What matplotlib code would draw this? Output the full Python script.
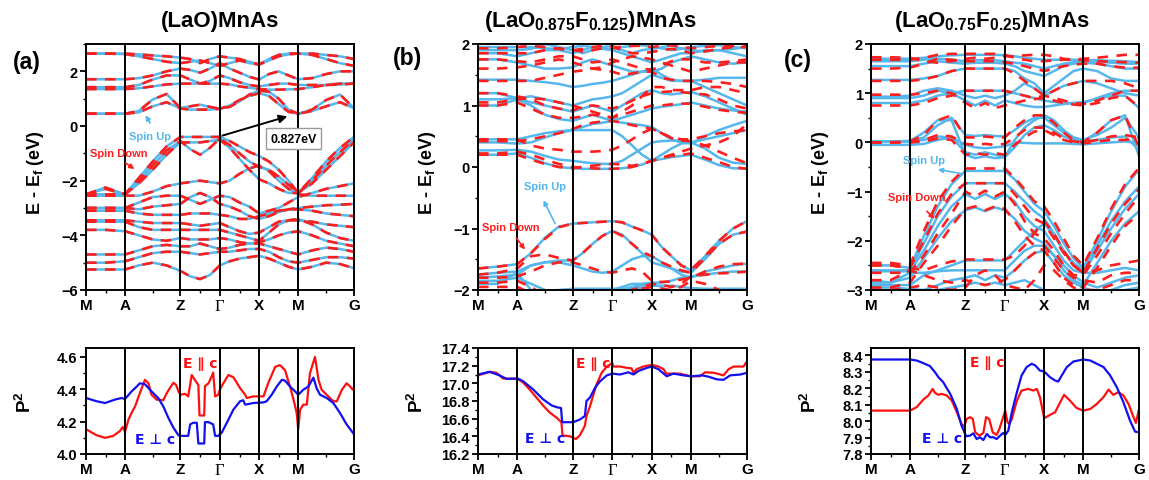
import matplotlib
matplotlib.use('Agg')
import matplotlib.pyplot as plt
from matplotlib.ticker import MultipleLocator, FixedLocator

plt.rcParams['font.family'] = ['Liberation Sans', 'DejaVu Sans']
plt.rcParams['font.weight'] = 'bold'
plt.rcParams['mathtext.fontset'] = 'custom'
plt.rcParams['mathtext.rm'] = 'Liberation Sans:bold'
plt.rcParams['mathtext.bf'] = 'Liberation Sans:bold'
plt.rcParams['mathtext.it'] = 'Liberation Sans:bold'
plt.rcParams['mathtext.default'] = 'bf'

BLUE = '#55B7EC'
RED = '#FF1E1E'
PRED = '#FF1010'
PBLUE = '#1010F0'

# ---------------- k-path ----------------
KPATH_LABELS = ['M', 'A', 'Z', 'Γ', 'X', 'M', 'G']
KPATH_POS = [0.0, 1.0, 2.42, 3.43, 4.44, 5.44, 6.87]
K_MINOR = [0.5, 1.71, 2.925, 3.935, 4.94, 6.155]
K_SAMPLES = [0.0, 0.5, 1.0, 1.355, 1.71, 2.065, 2.42, 2.6725, 2.925, 3.1775,
             3.43, 3.6825, 3.935, 4.1875, 4.44, 4.69, 4.94, 5.19, 5.44,
             5.7975, 6.155, 6.5125, 6.87]

# ---------------- (a) (LaO)MnAs : spin up and down degenerate ----------------
a_c1 = [0.45,0.45,0.45,0.5,0.72,0.87,0.64,0.6,0.6,0.6,0.63,0.75,0.95,1.1,1.2,1.1,0.8,0.52,0.45,0.55,0.72,0.87,0.65]
a_c2 = [0.45,0.45,0.45,0.55,0.97,1.17,0.66,0.72,0.78,0.7,0.63,0.7,0.9,1.15,1.3,1.25,1.0,0.6,0.45,0.6,0.95,1.15,0.65]
a_u1 = [1.35,1.35,1.35,1.38,1.45,1.52,1.55,1.55,1.55,1.55,1.55,1.52,1.45,1.4,1.35,1.33,1.33,1.34,1.35,1.42,1.5,1.55,1.55]
a_u2 = [1.42,1.42,1.42,1.5,1.7,1.85,1.85,1.7,1.55,1.65,1.85,1.75,1.6,1.5,1.45,1.5,1.55,1.55,1.5,1.5,1.5,1.52,1.55]
a_u3 = [1.71,1.71,1.71,1.75,1.85,2.0,2.1,2.05,1.95,2.1,2.3,2.1,1.95,1.8,1.7,1.9,2.0,1.85,1.71,1.75,1.9,2.0,2.0]
a_u4 = [2.65,2.65,2.63,2.55,2.45,2.35,2.3,2.35,2.4,2.3,2.2,2.3,2.4,2.3,2.25,2.4,2.55,2.62,2.65,2.6,2.45,2.3,2.2]
a_u5 = [2.65,2.65,2.65,2.62,2.58,2.55,2.5,2.45,2.3,2.45,2.55,2.5,2.45,2.35,2.25,2.45,2.6,2.65,2.65,2.65,2.6,2.55,2.45]
a_v1 = [-2.5,-2.25,-2.5,-1.9,-1.3,-0.75,-0.4,-0.4,-0.4,-0.4,-0.4,-0.55,-0.75,-0.95,-1.1,-1.3,-1.6,-2.0,-2.45,-1.9,-1.3,-0.8,-0.4]
a_v2 = [-2.5,-2.3,-2.5,-2.0,-1.45,-0.9,-0.55,-0.85,-1.05,-0.8,-0.45,-0.7,-1.0,-1.3,-1.5,-1.6,-1.85,-2.15,-2.45,-2.0,-1.45,-0.95,-0.5]
a_v3 = [-2.5,-2.5,-2.5,-2.1,-1.6,-1.05,-0.6,-0.6,-0.6,-0.55,-0.5,-0.8,-1.2,-1.6,-1.95,-2.1,-2.3,-2.45,-2.45,-2.1,-1.6,-1.1,-0.6]
a_v4 = [-2.55,-2.55,-2.55,-2.55,-2.4,-2.2,-2.1,-2.05,-2.0,-2.05,-2.1,-2.0,-1.75,-1.55,-1.45,-1.65,-2.0,-2.3,-2.5,-2.55,-2.55,-2.55,-2.55]
a_v5 = [-3.0,-3.0,-3.0,-2.8,-2.6,-2.55,-2.55,-2.7,-2.85,-2.7,-2.55,-2.6,-2.8,-2.95,-3.2,-3.1,-3.0,-2.8,-2.6,-2.45,-2.3,-2.2,-2.1]
a_v6 = [-3.0,-3.0,-3.0,-3.05,-2.95,-2.9,-2.85,-2.6,-2.45,-2.6,-2.85,-2.95,-3.1,-3.3,-3.4,-3.3,-3.15,-3.05,-3.0,-2.95,-2.9,-2.88,-2.85]
a_v7 = [-3.1,-3.1,-3.1,-3.2,-3.25,-3.25,-3.25,-3.2,-3.2,-3.2,-3.25,-3.3,-3.4,-3.4,-3.3,-3.2,-3.1,-3.05,-3.05,-3.1,-3.2,-3.25,-3.3]
a_v8 = [-3.45,-3.45,-3.45,-3.5,-3.55,-3.55,-3.55,-3.6,-3.65,-3.6,-3.55,-3.7,-3.85,-3.95,-3.9,-3.7,-3.5,-3.45,-3.45,-3.5,-3.6,-3.65,-3.7]
a_v9 = [-3.5,-3.5,-3.5,-3.7,-3.8,-3.8,-3.8,-3.8,-3.8,-3.8,-3.8,-3.9,-4.0,-4.1,-4.2,-3.9,-3.6,-3.45,-3.4,-3.6,-3.9,-4.1,-4.2]
a_v10 = [-3.8,-3.8,-3.85,-4.0,-4.15,-4.2,-4.1,-4.15,-4.15,-4.15,-4.1,-4.15,-4.25,-4.3,-4.25,-4.15,-4.0,-3.9,-3.85,-4.0,-4.2,-4.3,-4.4]
a_v11 = [-4.7,-4.7,-4.7,-4.55,-4.4,-4.35,-4.4,-4.4,-4.3,-4.4,-4.5,-4.45,-4.35,-4.3,-4.3,-4.4,-4.5,-4.6,-4.7,-4.55,-4.45,-4.5,-4.6]
a_v12 = [-5.0,-5.0,-4.95,-4.8,-4.65,-4.6,-4.6,-4.65,-4.7,-4.65,-4.6,-4.6,-4.55,-4.5,-4.5,-4.6,-4.8,-4.95,-5.0,-4.9,-4.8,-4.8,-4.85]
a_v13 = [-5.25,-5.25,-5.25,-5.1,-5.0,-5.1,-5.3,-5.5,-5.6,-5.45,-5.1,-4.95,-4.85,-4.8,-4.75,-4.85,-5.0,-5.15,-5.25,-5.15,-5.0,-5.05,-5.2]
bands_a = [a_c1, a_c2, a_u1, a_u2, a_u3, a_u4, a_u5, a_v1, a_v2, a_v3, a_v4,
           a_v5, a_v6, a_v7, a_v8, a_v9, a_v10, a_v11, a_v12, a_v13]

# ---------------- (b) (LaO0.875F0.125)MnAs ----------------
b_up = [
    [0.2,0.2,0.22,0.15,0.06,0.0,-0.02,-0.03,-0.03,-0.03,-0.03,-0.02,0.0,0.04,0.1,0.13,0.16,0.18,0.2,0.12,0.03,-0.02,-0.03],
    [0.27,0.27,0.28,0.25,0.18,0.12,0.1,0.08,0.06,0.05,0.05,0.1,0.2,0.3,0.4,0.42,0.43,0.42,0.4,0.3,0.15,0.07,0.05],
    [0.4,0.4,0.38,0.4,0.48,0.55,0.6,0.6,0.6,0.6,0.6,0.5,0.35,0.2,0.1,0.2,0.3,0.38,0.4,0.45,0.5,0.55,0.6],
    [0.45,0.45,0.45,0.5,0.55,0.58,0.6,0.65,0.7,0.72,0.75,0.72,0.7,0.68,0.65,0.55,0.45,0.4,0.38,0.5,0.6,0.68,0.75],
    [1.0,1.0,1.1,1.0,0.85,0.78,0.75,0.8,0.85,0.8,0.75,0.8,0.85,0.9,0.95,0.98,1.0,1.02,1.05,1.0,0.95,0.92,0.9],
    [1.2,1.2,1.12,1.05,1.0,0.95,0.9,0.95,1.0,0.95,0.9,1.0,1.1,1.2,1.25,1.2,1.18,1.2,1.22,1.15,1.05,0.95,0.85],
    [1.1,1.1,1.12,1.15,1.1,1.05,1.0,1.05,1.1,1.12,1.15,1.2,1.3,1.4,1.5,1.45,1.4,1.4,1.4,1.3,1.2,1.1,1.0],
    [1.42,1.42,1.42,1.4,1.38,1.35,1.3,1.32,1.35,1.37,1.4,1.45,1.5,1.55,1.6,1.5,1.42,1.4,1.4,1.42,1.45,1.45,1.45],
    [1.75,1.75,1.7,1.65,1.6,1.6,1.62,1.7,1.75,1.7,1.65,1.6,1.55,1.55,1.55,1.6,1.7,1.75,1.8,1.75,1.7,1.68,1.7],
    [1.85,1.85,1.8,1.85,1.9,1.9,1.85,1.9,1.95,1.92,1.9,1.85,1.8,1.75,1.7,1.75,1.8,1.85,1.85,1.9,1.9,1.85,1.8],
    [1.95,1.95,1.95,1.95,1.93,1.92,1.95,1.97,1.95,1.93,1.92,1.95,1.97,1.98,1.95,1.93,1.9,1.92,1.95,1.97,1.98,1.95,1.93],
    [1.9,1.9,1.9,1.92,2.0,1.95,1.9,1.85,1.9,1.95,1.97,1.9,1.85,1.9,1.92,1.95,1.97,1.93,1.9,1.88,1.9,1.92,1.95],
    [-1.65,-1.62,-1.58,-1.4,-1.15,-0.97,-0.92,-0.91,-0.9,-0.89,-0.88,-0.9,-0.97,-1.03,-1.1,-1.3,-1.45,-1.6,-1.68,-1.45,-1.2,-1.0,-0.88],
    [-1.75,-1.72,-1.7,-1.6,-1.55,-1.52,-1.52,-1.4,-1.25,-1.12,-1.04,-1.1,-1.25,-1.4,-1.55,-1.6,-1.65,-1.7,-1.72,-1.5,-1.25,-1.1,-1.05],
    [-1.8,-1.78,-1.75,-1.6,-1.55,-1.55,-1.6,-1.65,-1.7,-1.72,-1.7,-1.6,-1.5,-1.45,-1.45,-1.55,-1.65,-1.75,-1.8,-1.7,-1.65,-1.6,-1.57],
    [-1.85,-1.85,-1.8,-1.9,-2.0,-2.1,-2.1,-2.1,-2.1,-2.05,-2.0,-1.95,-1.9,-1.9,-1.88,-1.88,-1.85,-1.8,-1.78,-1.75,-1.72,-1.7,-1.7],
    [-1.9,-1.9,-1.72,-2.0,-2.2,-2.3,-2.3,-2.3,-2.25,-2.2,-2.1,-2.0,-1.95,-1.92,-1.9,-1.95,-2.05,-2.1,-2.1,-2.05,-2.0,-2.0,-2.0],
    [-2.1,-2.1,-2.1,-2.05,-2.02,-2.0,-1.98,-1.98,-1.98,-1.98,-1.98,-1.98,-1.97,-1.96,-1.93,-1.93,-1.93,-1.95,-1.97,-1.98,-1.98,-1.98,-1.98],
]
b_dn = [
    [0.2,0.2,0.2,0.12,0.05,0.0,-0.02,0.0,0.02,0.04,0.05,0.04,0.02,0.05,0.1,0.15,0.18,0.2,0.22,0.15,0.08,0.0,-0.03],
    [0.22,0.22,0.25,0.2,0.12,0.05,0.0,-0.01,-0.02,-0.03,-0.03,-0.02,0.0,0.05,0.1,0.15,0.2,0.25,0.3,0.35,0.4,0.5,0.7],
    [0.42,0.42,0.42,0.45,0.5,0.55,0.62,0.68,0.72,0.74,0.75,0.72,0.68,0.65,0.62,0.55,0.47,0.43,0.42,0.35,0.25,0.15,0.06],
    [0.45,0.45,0.45,0.35,0.3,0.28,0.25,0.25,0.25,0.26,0.28,0.35,0.45,0.55,0.62,0.55,0.48,0.45,0.45,0.5,0.55,0.58,0.6],
    [1.0,1.0,1.05,0.95,0.85,0.8,0.8,0.82,0.85,0.83,0.8,0.85,0.9,0.95,1.0,1.0,1.02,1.03,1.03,0.98,0.93,0.9,0.88],
    [1.2,1.2,1.15,1.1,1.0,0.95,0.92,0.98,1.0,0.98,0.95,1.0,1.08,1.15,1.2,1.22,1.23,1.22,1.2,1.18,1.1,1.0,0.95],
    [1.05,1.05,1.1,1.12,1.1,1.05,1.0,0.95,0.9,0.85,0.8,0.9,1.0,1.15,1.3,1.3,1.25,1.25,1.25,1.3,1.3,1.25,1.2],
    [1.4,1.4,1.4,1.4,1.45,1.5,1.55,1.57,1.6,1.58,1.55,1.5,1.52,1.55,1.55,1.45,1.42,1.4,1.4,1.4,1.38,1.35,1.3],
    [1.75,1.75,1.72,1.7,1.75,1.8,1.8,1.75,1.7,1.72,1.75,1.7,1.65,1.6,1.58,1.65,1.72,1.75,1.75,1.7,1.7,1.72,1.75],
    [1.85,1.85,1.85,1.85,1.9,1.93,1.9,1.88,1.9,1.93,1.95,1.9,1.85,1.85,1.87,1.9,1.92,1.9,1.85,1.88,1.92,1.95,1.95],
    [1.93,1.93,1.95,1.97,1.95,1.92,1.9,1.92,1.95,1.97,1.95,1.95,1.97,1.97,1.95,1.97,1.98,1.95,1.93,1.95,1.97,1.97,1.97],
    [1.6,1.6,1.62,1.65,1.7,1.75,1.7,1.65,1.6,1.62,1.7,1.75,1.8,1.78,1.75,1.7,1.65,1.6,1.55,1.6,1.65,1.7,1.7],
    [-1.65,-1.62,-1.58,-1.4,-1.17,-0.98,-0.92,-0.91,-0.9,-0.89,-0.88,-0.9,-0.97,-1.03,-1.1,-1.3,-1.45,-1.6,-1.67,-1.45,-1.2,-1.0,-0.88],
    [-1.75,-1.72,-1.65,-1.45,-1.42,-1.48,-1.52,-1.4,-1.25,-1.12,-1.04,-1.12,-1.25,-1.38,-1.45,-1.55,-1.62,-1.68,-1.72,-1.48,-1.25,-1.1,-1.05],
    [-1.8,-1.8,-1.78,-1.7,-1.6,-1.55,-1.55,-1.6,-1.65,-1.7,-1.72,-1.68,-1.65,-1.7,-1.85,-1.87,-1.86,-1.83,-1.8,-1.7,-1.62,-1.58,-1.57],
    [-1.88,-1.88,-1.85,-1.95,-2.1,-2.2,-2.2,-2.2,-2.2,-2.15,-2.1,-2.05,-2.0,-1.98,-1.95,-1.98,-2.0,-1.95,-1.85,-1.9,-2.0,-2.05,-2.05],
    [-1.95,-1.95,-1.95,-2.05,-2.1,-2.1,-2.1,-2.1,-2.1,-2.1,-2.1,-2.05,-2.0,-1.95,-1.9,-1.92,-1.95,-1.9,-1.78,-1.75,-1.73,-1.72,-1.7],
]

# ---------------- (c) (LaO0.75F0.25)MnAs ----------------
c_up = [
    [-0.05,-0.05,-0.05,-0.03,0.05,0.1,-0.05,-0.1,-0.12,-0.1,-0.08,0.0,-0.01,-0.02,-0.02,-0.02,-0.02,-0.03,-0.04,-0.02,0.0,0.02,-0.02],
    [0.02,0.02,0.02,0.1,0.35,0.5,0.15,0.13,0.15,0.13,0.12,0.25,0.4,0.5,0.5,0.35,0.2,0.1,0.05,0.15,0.3,0.5,0.1],
    [0.02,0.02,0.02,0.05,0.12,0.1,-0.2,-0.25,-0.2,-0.25,-0.3,-0.1,0.15,0.3,0.35,0.25,0.12,0.05,0.02,0.05,0.1,0.12,-0.15],
    [0.02,0.02,0.03,0.2,0.45,0.45,-0.25,-0.32,-0.28,-0.32,-0.3,0.05,0.3,0.45,0.55,0.45,0.25,0.1,0.03,0.2,0.45,0.55,-0.28],
    [0.8,0.8,0.8,0.85,0.95,1.0,1.05,1.05,1.05,1.05,1.05,1.0,0.95,0.9,0.85,0.82,0.8,0.8,0.8,0.9,1.0,1.05,1.05],
    [0.9,0.9,0.9,0.95,1.05,1.0,0.85,0.75,0.85,0.75,0.85,0.8,0.75,0.72,0.72,0.75,0.78,0.8,0.82,0.88,0.95,0.95,0.7],
    [0.93,0.93,0.95,1.05,1.1,1.05,0.95,0.9,0.95,0.9,0.95,1.05,1.2,1.1,0.95,1.05,1.15,1.2,1.25,1.2,1.1,1.0,0.95],
    [1.27,1.27,1.27,1.3,1.35,1.45,1.5,1.5,1.5,1.5,1.5,1.45,1.3,1.2,1.0,1.15,1.3,1.45,1.5,1.45,1.3,1.25,1.25],
    [1.55,1.55,1.55,1.6,1.65,1.62,1.6,1.62,1.62,1.62,1.6,1.55,1.45,1.4,1.35,1.45,1.55,1.6,1.62,1.6,1.55,1.5,1.5],
    [1.65,1.65,1.65,1.68,1.7,1.68,1.65,1.67,1.67,1.67,1.65,1.62,1.6,1.55,1.5,1.55,1.6,1.63,1.65,1.65,1.62,1.6,1.6],
    [1.7,1.7,1.7,1.72,1.75,1.77,1.78,1.78,1.78,1.78,1.77,1.75,1.72,1.7,1.68,1.68,1.68,1.68,1.68,1.67,1.66,1.65,1.63],
    [-2.5,-2.5,-2.55,-1.9,-1.3,-0.85,-0.58,-0.58,-0.58,-0.58,-0.58,-0.75,-1.0,-1.25,-1.4,-1.7,-2.05,-2.35,-2.55,-2.0,-1.4,-0.9,-0.55],
    [-2.6,-2.6,-2.6,-2.05,-1.5,-1.1,-0.83,-0.83,-0.83,-0.83,-0.83,-1.0,-1.2,-1.4,-1.55,-1.85,-2.2,-2.45,-2.6,-2.1,-1.6,-1.2,-0.9],
    [-2.62,-2.62,-2.62,-2.2,-1.7,-1.3,-1.05,-1.15,-1.05,-1.15,-1.05,-1.2,-1.5,-1.7,-1.8,-2.1,-2.4,-2.6,-2.65,-2.2,-1.75,-1.35,-1.05],
    [-2.8,-2.85,-2.75,-2.35,-1.95,-1.6,-1.38,-1.32,-1.4,-1.32,-1.38,-1.55,-1.8,-1.95,-2.05,-2.3,-2.6,-2.8,-2.9,-2.45,-2.0,-1.65,-1.4],
    [-2.9,-2.9,-2.9,-2.7,-2.6,-2.5,-2.4,-2.4,-2.4,-2.4,-2.4,-2.2,-2.0,-1.8,-1.65,-1.9,-2.2,-2.5,-2.65,-2.65,-2.6,-2.55,-2.6],
    [-2.85,-2.85,-2.65,-2.65,-2.62,-2.6,-2.6,-2.6,-2.6,-2.6,-2.6,-2.4,-2.2,-2.1,-2.1,-2.3,-2.5,-2.7,-2.85,-2.95,-2.85,-2.75,-2.7],
    [-2.95,-2.95,-2.98,-3.0,-2.9,-2.8,-2.75,-2.7,-2.8,-2.7,-2.75,-2.6,-2.4,-2.25,-2.2,-2.45,-2.7,-2.85,-2.95,-3.05,-3.0,-2.9,-2.85],
    [-3.1,-3.1,-3.1,-3.05,-3.0,-2.95,-2.9,-2.85,-2.9,-2.85,-2.9,-2.85,-2.8,-2.9,-3.0,-3.05,-3.05,-3.0,-3.0,-3.1,-3.05,-3.0,-2.95],
]
c_dn = [
    [0.0,0.0,0.0,0.05,0.15,0.12,-0.03,-0.05,-0.03,-0.05,-0.03,0.1,0.25,0.3,0.3,0.2,0.08,0.02,0.0,0.05,0.12,0.15,0.1],
    [0.0,0.0,0.02,0.15,0.45,0.55,0.1,0.1,0.12,0.1,0.1,0.3,0.45,0.55,0.55,0.4,0.2,0.05,0.0,0.2,0.45,0.55,-0.1],
    [0.0,0.0,0.0,0.02,0.08,0.05,-0.25,-0.22,-0.25,-0.22,-0.25,-0.05,0.1,0.22,0.25,0.15,0.05,0.0,-0.02,0.02,0.05,0.05,0.1],
    [0.75,0.75,0.75,0.8,0.9,0.95,1.05,1.05,1.05,1.05,1.05,1.0,0.95,0.9,0.95,0.9,0.85,0.8,0.78,0.85,0.95,1.05,1.05],
    [0.97,0.97,0.97,1.0,1.05,1.0,0.8,0.7,0.8,0.7,0.75,0.8,0.85,0.88,0.9,0.85,0.8,0.77,0.75,0.8,0.9,0.95,0.72],
    [1.25,1.25,1.25,1.28,1.35,1.45,1.5,1.5,1.5,1.5,1.5,1.4,1.25,1.1,0.95,1.05,1.15,1.2,1.25,1.25,1.25,1.2,1.1],
    [1.5,1.5,1.52,1.6,1.7,1.68,1.65,1.65,1.65,1.65,1.63,1.6,1.55,1.5,1.45,1.5,1.55,1.58,1.6,1.6,1.55,1.52,1.52],
    [1.68,1.68,1.68,1.72,1.78,1.8,1.8,1.8,1.8,1.8,1.78,1.72,1.68,1.65,1.65,1.67,1.68,1.68,1.7,1.72,1.75,1.78,1.78],
    [1.73,1.73,1.72,1.65,1.62,1.65,1.7,1.72,1.7,1.72,1.75,1.75,1.77,1.78,1.78,1.75,1.7,1.68,1.67,1.65,1.64,1.63,1.62],
    [-2.45,-2.45,-2.5,-1.8,-1.2,-0.8,-0.53,-0.53,-0.53,-0.53,-0.53,-0.72,-0.95,-1.2,-1.3,-1.6,-1.95,-2.3,-2.5,-1.95,-1.35,-0.85,-0.52],
    [-2.5,-2.5,-2.55,-2.0,-1.45,-1.05,-0.83,-0.83,-0.83,-0.83,-0.83,-1.05,-1.3,-1.55,-1.65,-1.95,-2.25,-2.5,-2.65,-2.15,-1.65,-1.25,-0.95],
    [-2.65,-2.65,-2.65,-2.3,-1.85,-1.45,-1.0,-1.1,-0.98,-1.1,-1.0,-1.25,-1.6,-1.85,-1.95,-2.2,-2.5,-2.7,-2.7,-2.3,-1.85,-1.45,-1.1],
    [-2.95,-2.95,-2.85,-2.45,-2.1,-1.7,-1.35,-1.3,-1.38,-1.3,-1.35,-1.6,-1.9,-2.1,-2.2,-2.45,-2.75,-2.9,-2.95,-2.55,-2.1,-1.7,-1.45],
    [-2.5,-2.5,-2.55,-2.6,-2.5,-2.42,-2.38,-2.38,-2.38,-2.38,-2.38,-2.3,-2.1,-1.85,-1.6,-1.85,-2.2,-2.5,-2.65,-2.6,-2.5,-2.45,-2.4],
    [-2.8,-2.8,-2.6,-2.7,-2.8,-2.85,-2.8,-2.85,-2.9,-2.85,-2.8,-2.6,-2.4,-2.25,-2.1,-2.35,-2.6,-2.75,-2.8,-2.85,-2.7,-2.65,-2.65],
    [-3.0,-3.0,-2.95,-2.9,-2.95,-3.0,-2.95,-2.7,-2.6,-2.7,-2.9,-2.95,-3.0,-2.8,-2.5,-2.6,-2.8,-2.95,-3.0,-3.0,-2.9,-2.8,-2.8],
]

# ---------------- P^2 data ----------------
pa_par_k = [0.00,0.27,0.49,0.70,0.87,0.94,1.00,1.09,1.17,1.26,1.38,1.51,1.60,1.68,1.81,1.98,2.07,2.15,2.24,2.31,
            2.37,2.42,2.54,2.62,2.71,2.79,2.88,2.91,3.03,3.05,3.14,3.22,3.26,3.31,3.39,3.43,3.52,3.65,3.78,3.95,
            4.08,4.12,4.29,4.55,4.67,4.85,4.97,5.10,5.23,5.32,5.40,5.44,5.49,5.57,5.66,5.74,5.87,5.96,6.04,6.21,
            6.34,6.43,6.56,6.68,6.77,6.84,6.87]
pa_par = [4.153,4.116,4.10,4.112,4.142,4.167,4.136,4.214,4.254,4.295,4.376,4.458,4.437,4.366,4.336,4.332,4.376,4.407,4.44,4.427,
          4.387,4.366,4.372,4.356,4.488,4.458,4.427,4.238,4.238,4.42,4.437,4.478,4.503,4.356,4.366,4.397,4.437,4.488,4.474,4.407,
          4.366,4.346,4.356,4.356,4.437,4.539,4.549,4.519,4.417,4.336,4.254,4.153,4.275,4.305,4.305,4.498,4.6,4.458,4.397,4.356,
          4.326,4.326,4.397,4.437,4.417,4.397,4.413]
pa_perp_k = [0,0.27,0.49,0.74,0.91,1.00,1.17,1.30,1.38,1.51,1.68,1.85,1.98,2.11,2.24,2.37,2.42,2.62,2.67,2.75,
             2.84,2.88,3.03,3.05,3.14,3.26,3.31,3.39,3.48,3.61,3.78,3.95,4.03,4.08,4.29,4.55,4.63,4.76,4.89,5.02,
             5.10,5.23,5.36,5.44,5.57,5.70,5.83,5.91,6.00,6.17,6.34,6.51,6.68,6.87]
pa_perp = [4.346,4.326,4.315,4.336,4.346,4.34,4.387,4.417,4.437,4.431,4.387,4.346,4.295,4.224,4.163,4.116,4.112,4.112,4.183,4.193,
           4.193,4.065,4.065,4.197,4.197,4.183,4.112,4.112,4.132,4.193,4.275,4.326,4.332,4.305,4.315,4.319,4.326,4.366,4.417,4.458,
           4.454,4.417,4.387,4.366,4.397,4.417,4.472,4.407,4.366,4.346,4.315,4.254,4.183,4.122]

pb_par_k = [0,0.30,0.47,0.64,1.01,1.15,1.32,1.49,1.66,1.83,2.01,2.13,2.16,2.35,2.50,2.60,2.73,2.77,2.86,2.94,
            3.03,3.16,3.29,3.43,3.46,3.63,3.80,3.92,3.97,4.05,4.22,4.44,4.61,4.74,4.81,4.95,5.16,5.42,5.67,5.80,
            6.02,6.27,6.40,6.53,6.78,6.87]
pb_par = [17.09,17.13,17.12,17.055,17.05,17.01,16.93,16.84,16.75,16.67,16.61,16.56,16.41,16.40,16.37,16.41,16.52,16.63,16.74,16.86,
          16.99,17.12,17.19,17.23,17.19,17.19,17.175,17.17,17.12,17.16,17.19,17.21,17.19,17.16,17.11,17.11,17.11,17.08,17.08,17.125,
          17.12,17.09,17.16,17.19,17.19,17.25]
pb_perp_k = [0,0.30,0.55,0.73,1.01,1.15,1.41,1.66,1.88,2.01,2.12,2.15,2.43,2.60,2.73,2.77,2.86,2.99,3.11,3.29,
             3.43,3.63,3.84,3.97,4.10,4.31,4.44,4.61,4.82,4.99,5.25,5.46,5.72,5.89,6.10,6.27,6.44,6.70,6.87]
pb_perp = [17.10,17.13,17.09,17.05,17.055,17.025,16.93,16.82,16.75,16.73,16.72,16.56,16.56,16.59,16.63,16.80,16.84,16.95,17.02,17.09,
           17.11,17.10,17.125,17.10,17.14,17.175,17.19,17.16,17.08,17.11,17.09,17.08,17.09,17.075,17.045,17.04,17.09,17.10,17.12]

pc_par_k = [0,1.0,1.17,1.34,1.47,1.58,1.64,1.73,1.81,1.94,2.07,2.20,2.32,2.39,2.45,2.54,2.61,2.67,2.78,2.88,
            2.95,3.03,3.12,3.22,3.29,3.38,3.44,3.50,3.55,3.61,3.74,3.86,4.03,4.16,4.25,4.33,4.44,4.59,4.72,4.85,
            4.95,5.10,5.27,5.44,5.62,5.79,5.96,6.09,6.21,6.34,6.47,6.60,6.73,6.79,6.87]
pc_par = [8.064,8.064,8.085,8.131,8.156,8.196,8.172,8.16,8.166,8.156,8.125,8.054,7.983,7.967,8.013,8.024,8.013,7.932,7.912,7.928,
          8.024,8.013,7.932,7.916,7.952,8.018,8.064,7.993,7.983,8.013,8.125,8.186,8.196,8.186,8.196,8.146,8.018,8.038,8.054,8.115,
          8.16,8.125,8.08,8.064,8.074,8.105,8.146,8.192,8.16,8.176,8.156,8.105,8.024,7.989,8.074]
pc_perp_k = [0,1.0,1.17,1.34,1.51,1.64,1.73,1.85,2.03,2.20,2.32,2.44,2.54,2.62,2.71,2.79,2.88,2.97,3.05,3.14,
             3.22,3.31,3.39,3.44,3.52,3.61,3.74,3.86,3.99,4.12,4.21,4.33,4.44,4.59,4.72,4.80,4.89,5.02,5.19,5.44,
             5.62,5.79,5.96,6.13,6.30,6.47,6.64,6.77,6.87]
pc_perp = [8.375,8.375,8.369,8.353,8.335,8.298,8.267,8.237,8.166,8.074,7.973,7.908,7.912,7.926,7.891,7.902,7.885,7.922,7.902,7.902,
           7.891,7.912,7.928,7.916,7.942,8.054,8.176,8.278,8.329,8.349,8.339,8.308,8.302,8.267,8.247,8.241,8.278,8.329,8.363,8.375,
           8.369,8.349,8.329,8.278,8.207,8.115,8.003,7.936,7.932]

TITLES = ['(LaO)MnAs',
          r'(LaO$_{0.875}$F$_{0.125}$)MnAs',
          r'(LaO$_{0.75}$F$_{0.25}$)MnAs']
PANEL_TAGS = ['(a)', '(b)', '(c)']

# ---------------- figure ----------------
fig = plt.figure(figsize=(11.49, 4.81), dpi=100)
W, H = 1149.0, 481.0
lefts = [86, 478, 871]
widths = [268, 269, 268]


def px_axes(l, top, w, h):
    return fig.add_axes([l / W, 1 - (top + h) / H, w / W, h / H])


def style(ax, ylim, major, minor, fmt=None):
    ax.set_xlim(KPATH_POS[0], KPATH_POS[-1])
    ax.set_ylim(*ylim)
    ax.set_xticks(KPATH_POS)
    ax.set_xticklabels(KPATH_LABELS)
    ax.xaxis.set_minor_locator(FixedLocator(K_MINOR))
    ax.yaxis.set_major_locator(MultipleLocator(major))
    ax.yaxis.set_minor_locator(MultipleLocator(minor))
    if fmt:
        ax.yaxis.set_major_formatter(plt.FormatStrFormatter(fmt))
    for p in KPATH_POS[1:-1]:
        ax.axvline(p, color='black', lw=1.4, zorder=5)
    ax.tick_params(which='major', direction='out', length=4, width=1.3,
                   labelsize=10.5, pad=2)
    ax.tick_params(axis='x', which='major', labelsize=11)
    ax.tick_params(which='minor', direction='out', length=2.5, width=1.0)
    for sp in ax.spines.values():
        sp.set_linewidth(1.4)
        sp.set_zorder(6)
    for lab in ax.get_xticklabels():
        lab.set_fontweight('bold')
        if lab.get_text() == 'Γ':
            lab.set_fontfamily('Liberation Serif')
            lab.set_fontweight('normal')
            lab.set_fontsize(12)
    for lab in ax.get_yticklabels():
        lab.set_fontweight('bold')


def draw_bands(ax, up, dn):
    for b in up:
        ax.plot(K_SAMPLES, b, color=BLUE, lw=1.8, zorder=2)
    for b in dn:
        ax.plot(K_SAMPLES, b, color=RED, lw=1.9, ls=(0, (4, 3.2)), zorder=3)


# top band panels
ax_a = px_axes(lefts[0], 45, widths[0], 246)
ax_b = px_axes(lefts[1], 45, widths[1], 246)
ax_c = px_axes(lefts[2], 45, widths[2], 246)

draw_bands(ax_a, bands_a, bands_a)
draw_bands(ax_b, b_up, b_dn)
draw_bands(ax_c, c_up, c_dn)

style(ax_a, (-6, 3), 2, 1)
style(ax_b, (-2, 2), 1, 0.5)
style(ax_c, (-3, 2), 1, 0.5)

for ax in (ax_a, ax_b, ax_c):
    ax.set_ylabel(r'E - E$_f$ (eV)', fontsize=13, fontweight='bold')
    ax.yaxis.set_label_coords(-0.15, 0.48)

# annotations (a)
ax_a.annotate('', xy=(5.23, 0.38), xytext=(3.43, -0.38),
              arrowprops=dict(arrowstyle='-|>', color='black', lw=1.4,
                              mutation_scale=12), zorder=7)
ax_a.text(5.33, -0.47, '0.827eV', fontsize=9, fontweight='bold', ha='center',
          va='center', zorder=8,
          bbox=dict(boxstyle='square,pad=0.35', fc='white', ec='#999999', lw=1))
ax_a.text(1.64, -0.38, 'Spin Up', color=BLUE, fontsize=8, fontweight='bold',
          ha='center', va='center', zorder=8)
ax_a.annotate('', xy=(1.49, 0.48), xytext=(1.68, 0.02),
              arrowprops=dict(arrowstyle='-|>', color=BLUE, lw=1.2,
                              mutation_scale=7), zorder=8)
ax_a.text(0.83, -1.0, 'Spin Down', color=RED, fontsize=8, fontweight='bold',
          ha='center', va='center', zorder=8)
ax_a.annotate('', xy=(1.3, -1.63), xytext=(0.96, -1.3),
              arrowprops=dict(arrowstyle='-|>', color=RED, lw=1.2,
                              mutation_scale=7), zorder=8)

# annotations (b)
ax_b.text(1.71, -0.31, 'Spin Up', color=BLUE, fontsize=8, fontweight='bold',
          ha='center', va='center', zorder=8)
ax_b.annotate('', xy=(1.64, -0.5), xytext=(2.0, -0.96),
              arrowprops=dict(arrowstyle='-|>', color=BLUE, lw=1.2,
                              mutation_scale=7), zorder=8)
ax_b.text(0.85, -0.97, 'Spin Down', color=RED, fontsize=8, fontweight='bold',
          ha='center', va='center', zorder=8)
ax_b.annotate('', xy=(1.24, -1.38), xytext=(0.94, -1.12),
              arrowprops=dict(arrowstyle='-|>', color=RED, lw=1.2,
                              mutation_scale=7), zorder=8)

# annotations (c)
ax_c.text(1.36, -0.36, 'Spin Up', color=BLUE, fontsize=8, fontweight='bold',
          ha='center', va='center', zorder=8)
ax_c.annotate('', xy=(1.64, -0.54), xytext=(2.37, -0.64),
              arrowprops=dict(arrowstyle='-|>', color=BLUE, lw=1.2,
                              mutation_scale=7), zorder=8)
ax_c.text(1.17, -1.1, 'Spin Down', color=RED, fontsize=8, fontweight='bold',
          ha='center', va='center', zorder=8)
ax_c.annotate('', xy=(1.68, -1.59), xytext=(1.38, -1.36),
              arrowprops=dict(arrowstyle='-|>', color=RED, lw=1.2,
                              mutation_scale=7), zorder=8)

# bottom P^2 panels
bx_a = px_axes(lefts[0], 349, widths[0], 106)
bx_b = px_axes(lefts[1], 349, widths[1], 106)
bx_c = px_axes(lefts[2], 349, widths[2], 106)

bx_a.plot(pa_par_k, pa_par, color=PRED, lw=1.6, zorder=3)
bx_a.plot(pa_perp_k, pa_perp, color=PBLUE, lw=1.6, zorder=3)
bx_b.plot(pb_par_k, pb_par, color=PRED, lw=1.6, zorder=3)
bx_b.plot(pb_perp_k, pb_perp, color=PBLUE, lw=1.6, zorder=3)
bx_c.plot(pc_par_k, pc_par, color=PRED, lw=1.6, zorder=3)
bx_c.plot(pc_perp_k, pc_perp, color=PBLUE, lw=1.6, zorder=3)

style(bx_a, (4.0, 4.655), 0.2, 0.1, '%.1f')
style(bx_b, (16.2, 17.4), 0.2, 0.1, '%.1f')
style(bx_c, (7.8, 8.445), 0.1, 0.05, '%.1f')

for bx in (bx_a, bx_b, bx_c):
    bx.set_ylabel(r'P$^2$', fontsize=13.5, fontweight='bold')
    bx.yaxis.set_label_coords(-0.19, 0.5)

bx_a.text(2.92, 4.56, 'E ∥ c', color=PRED, fontsize=10, fontweight='bold',
          ha='center', va='center', family=['DejaVu Sans'])
bx_a.text(1.77, 4.09, 'E ⊥ c', color=PBLUE, fontsize=10, fontweight='bold',
          ha='center', va='center', family=['DejaVu Sans'])
bx_b.text(2.94, 17.23, 'E ∥ c', color=PRED, fontsize=10, fontweight='bold',
          ha='center', va='center', family=['DejaVu Sans'])
bx_b.text(1.71, 16.38, 'E ⊥ c', color=PBLUE, fontsize=10, fontweight='bold',
          ha='center', va='center', family=['DejaVu Sans'])
bx_c.text(2.97, 8.36, 'E ∥ c', color=PRED, fontsize=10, fontweight='bold',
          ha='center', va='center', family=['DejaVu Sans'])
bx_c.text(1.81, 7.895, 'E ⊥ c', color=PBLUE, fontsize=10, fontweight='bold',
          ha='center', va='center', family=['DejaVu Sans'])

# titles and panel tags
title_x = [220, 590, 992]
for tx, t in zip(title_x, TITLES):
    fig.text(tx / W, 1 - 22 / H, t, fontsize=16, fontweight='bold',
             ha='center', va='center')
tag_xy = [(27, 62), (408, 58), (798, 60)]
for (tx, ty), t in zip(tag_xy, PANEL_TAGS):
    fig.text(tx / W, 1 - ty / H, t, fontsize=16.5, fontweight='bold',
             ha='center', va='center')

fig.savefig('out.png', dpi=100)
